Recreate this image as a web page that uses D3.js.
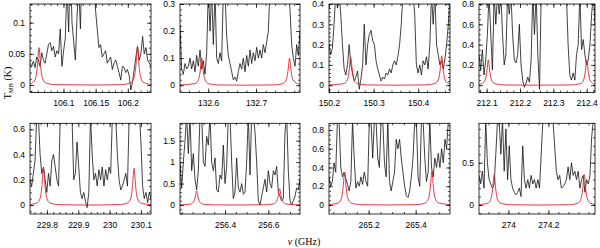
<!DOCTYPE html>
<html>
<head>
<meta charset="utf-8">
<script src="https://cdn.jsdelivr.net/npm/d3@7"></script>
<style>
  body { margin: 0; background: #fff; }
  svg { display: block; }
  .tick text { font-family: "Liberation Sans", Arial, sans-serif; font-size: 8.5px; fill: #000; }
  .tick line { stroke: #000; stroke-width: 0.7; }
  .title { font-family: "Liberation Serif", "Times New Roman", serif; font-size: 10px; fill: #000; }
</style>
</head>
<body>
<div id="chart"></div>
<script>
// frequency window (GHz) and T_MB window (K) of each panel
var xDomains = [[106.048,106.236],[132.541,132.792],[150.2,150.4713],[212.077,212.425],
                [229.746,230.132],[256.192,256.746],[265.0315,265.546],[273.853,274.433]];
var yDomains = [[-0.012,0.13],[-0.027,0.3],[-0.036,0.4],[-0.072,0.8],
                [-0.071,0.647],[-0.21,1.906],[-0.096,0.871],[-0.106,0.966]];

// labelled tick values and minor tick steps
var xTicks = [[106.1,106.15,106.2],[132.6,132.7],[150.2,150.3,150.4],[212.1,212.2,212.3,212.4],
              [229.8,229.9,230,230.1],[256.4,256.6],[265.2,265.4],[274,274.2]];
var yTicks = [[0,0.05,0.1],[0,0.1,0.2,0.3],[0,0.1,0.2,0.3,0.4],[0,0.2,0.4,0.6,0.8],
              [0,0.2,0.4,0.6],[0,0.5,1,1.5],[0,0.2,0.4,0.6,0.8],[0,0.5]];
var xMinorStep = [0.01,0.02,0.02,0.02,0.02,0.05,0.05,0.05];
var yMinorStep = [0.01,0.02,0.02,0.05,0.05,0.1,0.05,0.1];

// observed spectra (K), channels evenly spread over each window
var spec106 = [0.035,0.03,0.038,0.028,0.045,0.04,0.03,0.052,0.04,0.035,
  0.05,0.065,0.068,0.055,0.062,0.045,0.055,0.05,0.09,0.03,
  0.055,0.075,0.16,0.085,0.2,0.1,0.07,0.04,0.11,0.16,
  0.09,0.2,0.2,0.2,0.2,0.2,0.2,0.2,0.2,0.12,
  0.09,0.06,0.065,0.045,0.05,0.055,0.035,0.04,0.045,0.025,
  0.035,0.04,0.03,0.02,0.008,0.03,0.028,0.02,0.025,0.015,
  -0.008,0.005,0.025,0.045,0.062,0.04,0.05,0.078,0.05,0.06,
  0.04,0.035,0.03];
var spec132 = [0.22,0.06,0.04,0.08,0.06,0.07,0.1,0.06,0.09,0.05,
  0.11,0.07,0.13,0.06,0.09,0.04,0.12,0.35,0.2,0.35,
  0.15,0.35,0.1,0.08,0.12,0.09,0.35,0.35,0.18,0.11,
  0.08,0.05,0.02,0.03,0.015,0.05,0.08,0.06,0.1,0.05,
  0.11,0.07,0.13,0.08,0.12,0.09,0.14,0.1,0.13,0.1,
  0.15,0.12,0.16,0.2,0.35,0.35,0.35,0.35,0.35,0.35,
  0.35,0.35,0.35,0.35,0.35,0.35,0.28,0.15,0.1,0.07,
  0.15,0.11,0.2];
var spec150 = [0.2,0.15,0.18,0.3,0.45,0.38,0.45,0.35,0.2,0.08,
  0.05,0.1,0.2,0.1,0.06,0.02,0.04,0.07,-0.02,0.03,
  0.1,0.3,0.1,0.2,0.25,0.27,0.22,0.2,0.12,0.08,
  0.05,0.02,0.04,0.03,0.06,0.05,0.08,0.06,0.1,0.12,
  0.1,0.14,0.2,0.3,0.45,0.45,0.45,0.45,0.45,0.45,
  0.45,0.35,0.1,0.06,0.1,0.05,0.12,0.1,0.14,0.08,
  0.2,0.45,0.3,0.45,0.2,0.15,0.1,0.12,0.08,0.13,
  0.2,0.3,0.45];
var spec212 = [0.3,0.15,0.35,0.1,0.25,0.5,0.9,0.5,0.15,0.9,
  0.6,0.9,0.7,0.9,0.5,0.2,0.3,0.9,0.7,0.9,
  0.5,0.25,0.22,0.3,0.6,0.2,0.05,-0.02,0.02,0.08,
  0.03,0.25,0.9,0.5,0.9,0.3,-0.04,0.9,0.9,0.9,
  0.9,0.9,0.9,0.9,0.9,0.9,0.9,0.9,0.9,0.9,
  0.9,0.9,0.9,0.4,0.1,0.05,0.12,0.05,0.3,0.4,
  0.9,0.35,0.45,0.3,0.2,0.25,0.4,0.7,0.9,0.6];
var spec229 = [0.2,0.15,0.25,0.35,0.7,0.7,0.4,0.25,0.3,0.2,
  0.1,0.25,0.15,0.35,0.4,0.3,0.2,0.15,0.7,0.75,
  0.75,0.75,0.75,0.75,0.75,0.7,0.2,0.25,0.5,0.3,
  0.1,0.05,0.1,0.03,-0.02,0.1,0.7,0.4,0.2,0.25,
  0.15,0.28,0.2,0.3,0.15,0.28,0.2,0.3,0.25,0.7,
  0.75,0.7,0.4,0.2,0.12,0.15,0.2,0.25,0.15,0.7,
  0.75,0.75,0.75,0.75,0.75,0.75,0.5,0.15,0.05,0.1,
  0.02,0.1,0.05];
var spec256 = [1.0,0.4,1.0,1.5,2.1,1.2,2.1,0.8,1.2,0.6,
  0.35,0.8,2.1,2.1,1.0,0.9,1.6,1.4,2.1,1.0,
  0.8,1.1,0.35,0.3,0.7,0.6,1.4,0.5,0.9,2.1,
  2.1,1.0,0.15,0.3,1.1,0.4,0.3,0.5,0.25,0.3,
  1.0,2.1,0.7,2.1,2.1,1.7,1.0,0.1,0.0,0.2,
  0.4,0.6,0.3,0.8,0.5,0.4,0.8,0.7,0.9,0.3,
  0.2,0.1,0.15,1.7,2.1,0.8,0.1,0.0,0.1,0.2,
  0.4,0.35,0.6];
var spec265 = [0.3,0.2,0.25,0.45,0.35,0.9,0.9,0.4,0.3,0.35,
  0.28,0.22,0.15,0.25,0.9,0.5,0.18,0.25,0.2,0.3,
  0.22,0.35,0.25,0.2,0.9,0.9,0.5,0.9,0.9,0.5,
  0.4,0.9,0.9,0.45,0.3,0.9,0.25,0.15,0.25,0.35,
  0.7,0.6,0.7,0.5,0.35,0.2,0.1,0.08,0.15,0.3,
  0.5,0.9,0.9,0.3,0.2,0.9,0.9,0.5,0.25,0.35,
  0.9,0.4,0.3,0.5,0.4,0.55,0.4,0.6,0.45,0.7,
  0.6,0.9,0.9];
var spec274 = [0.35,0.25,0.4,0.2,1.0,0.5,0.3,0.25,0.2,0.25,
  0.6,1.0,1.0,0.6,1.0,0.4,0.9,0.3,0.7,0.3,
  0.2,0.15,0.12,0.15,0.2,0.1,0.7,0.3,0.2,0.3,
  0.2,0.35,0.25,0.3,0.2,0.3,0.2,0.6,1.0,1.0,
  1.0,1.0,1.0,1.0,1.0,0.7,0.4,0.3,0.35,0.2,
  0.22,0.25,0.3,0.45,0.3,0.5,0.35,0.4,0.3,0.4,
  0.2,0.3,0.35,0.15,0.3,0.25,0.35,0.8,1.0,1.0];

// red model lines, [GHz, K]
var model106 = [[106.048,0.002],[106.052,0.0036],[106.057,0.012],[106.0595,0.03],[106.062,0.06],
  [106.0645,0.03],[106.067,0.012],[106.072,0.0036],[106.087,0.0006],[106.15,0],
  [106.19,0.0006],[106.205,0.0037],[106.21,0.0124],[106.2125,0.031],[106.215,0.062],
  [106.2175,0.031],[106.22,0.0124],[106.225,0.0037],[106.236,0.0009]];
var model132 = [[132.541,0.0006],[132.5729,0.006],[132.5797,0.02],[132.5831,0.05],[132.5865,0.1],
  [132.5899,0.05],[132.5933,0.02],[132.6001,0.006],[132.6205,0.001],[132.68,0],
  [132.7361,0.001],[132.7565,0.006],[132.7633,0.02],[132.7667,0.05],[132.7701,0.1],
  [132.7735,0.05],[132.7769,0.02],[132.792,0.0024]];
var model150 = [[150.2,0.0008],[150.2343,0.0084],[150.2415,0.028],[150.2451,0.07],[150.2487,0.14],
  [150.2523,0.07],[150.2559,0.028],[150.2631,0.0084],[150.2847,0.0014],[150.35,0],
  [150.4167,0.0015],[150.4383,0.0087],[150.4455,0.029],[150.4491,0.0725],[150.4527,0.145],
  [150.4563,0.0725],[150.4599,0.029],[150.4671,0.0087],[150.4713,0.005]];
var model212 = [[212.077,0.007],[212.0858,0.015],[212.0954,0.05],[212.1002,0.125],[212.105,0.25],
  [212.1098,0.125],[212.1146,0.05],[212.1242,0.015],[212.153,0.0025],[212.25,0],
  [212.3524,0.0025],[212.3812,0.015],[212.3908,0.05],[212.3956,0.125],[212.4004,0.25],
  [212.4052,0.125],[212.41,0.05],[212.4196,0.015],[212.425,0.008]];
var model229 = [[229.746,0.004],[229.7686,0.017],[229.7788,0.058],[229.7839,0.145],[229.789,0.29],
  [229.7941,0.145],[229.7992,0.058],[229.8094,0.017],[229.84,0.003],[229.93,0],
  [230.027,0.003],[230.0576,0.017],[230.0678,0.058],[230.0729,0.145],[230.078,0.29],
  [230.0831,0.145],[230.0882,0.058],[230.0984,0.017],[230.132,0.003]];
var model256 = [[256.192,0.003],[256.2394,0.02],[256.2542,0.066],[256.2616,0.165],[256.269,0.33],
  [256.2764,0.165],[256.2838,0.066],[256.2986,0.02],[256.343,0.003],[256.46,0],
  [256.578,0.004],[256.6224,0.023],[256.6372,0.076],[256.6446,0.19],[256.652,0.38],
  [256.6594,0.19],[256.6668,0.076],[256.6816,0.023],[256.746,0.002]];
var model265 = [[265.0315,0.004],[265.0704,0.021],[265.0842,0.07],[265.0911,0.175],[265.098,0.35],
  [265.1049,0.175],[265.1118,0.07],[265.1256,0.021],[265.167,0.0035],[265.28,0],
  [265.4,0.0036],[265.4414,0.022],[265.4552,0.072],[265.4621,0.18],[265.469,0.36],
  [265.4759,0.18],[265.4828,0.072],[265.4966,0.022],[265.546,0.004]];
var model274 = [[273.853,0.004],[273.897,0.022],[273.913,0.072],[273.921,0.18],[273.929,0.36],
  [273.937,0.18],[273.945,0.072],[273.961,0.022],[274.009,0.0036],[274.15,0],
  [274.299,0.0036],[274.347,0.022],[274.363,0.072],[274.371,0.18],[274.379,0.36],
  [274.387,0.18],[274.395,0.072],[274.411,0.022],[274.433,0.008]];

var spectra = [spec106,spec132,spec150,spec212,spec229,spec256,spec265,spec274];
var models = [model106,model132,model150,model212,model229,model256,model265,model274];

// layout
var W = 600, H = 248;
var colLeft = [30,180,329,479], colRight = [151,300,450,595];
var rowTop = [4,123.3], rowBottom = [92.5,214];

var fmt = function(d){ return String(+d.toFixed(3)); };
var minorValues = function(dom, step){
   var lo = Math.min(dom[0],dom[1]), hi = Math.max(dom[0],dom[1]);
   return d3.range(Math.ceil(lo/step-1e-9), Math.floor(hi/step+1e-9)+1).map(function(k){ return k*step; });
};

var svg = d3.select("#chart").append("svg").attr("width",W).attr("height",H);

for (var i=0;i<8;i++) {
   var col = i%4, row = Math.floor(i/4);
   var w = colRight[col]-colLeft[col], h = rowBottom[row]-rowTop[row];
   var xScale = d3.scaleLinear().domain(xDomains[i]).range([0,w]);
   var yScale = d3.scaleLinear().domain(yDomains[i]).range([h,0]);
   var g = svg.append("g").attr("transform","translate("+colLeft[col]+","+rowTop[row]+")");

   // clip the lines to the frame
   g.append("clipPath").attr("id","clip"+i)
      .append("rect").attr("width",w).attr("height",h);

   // observed spectrum
   var spec = spectra[i];
   var x0 = xDomains[i][0], dx = (xDomains[i][1]-xDomains[i][0])/(spec.length-1);
   var chan = spec.map(function(v,k){ return [x0+k*dx, v]; });
   var line = d3.line().x(function(d){ return xScale(d[0]); }).y(function(d){ return yScale(d[1]); });
   g.append("path").datum(chan)
      .attr("clip-path","url(#clip"+i+")")
      .attr("fill","none").attr("stroke","#111").attr("stroke-width",0.8)
      .attr("stroke-linejoin","round")
      .attr("d",line);

   // model
   g.append("path").datum(models[i])
      .attr("clip-path","url(#clip"+i+")")
      .attr("fill","none").attr("stroke","#dc2430").attr("stroke-width",0.9)
      .attr("d",line.curve(d3.curveMonotoneX));

   // ticks on all four sides, pointing in
   var xMinor = minorValues(xDomains[i], xMinorStep[i]);
   var yMinor = minorValues(yDomains[i], yMinorStep[i]);

   g.append("g").attr("transform","translate(0,"+h+")")
      .call(d3.axisBottom(xScale).tickValues(xTicks[i]).tickSize(-4).tickPadding(7.5).tickFormat(fmt));
   g.append("g").attr("transform","translate(0,"+h+")")
      .call(d3.axisBottom(xScale).tickValues(xMinor).tickSize(-2).tickFormat(""));
   g.append("g")
      .call(d3.axisTop(xScale).tickValues(xTicks[i]).tickSize(-4).tickFormat(""));
   g.append("g")
      .call(d3.axisTop(xScale).tickValues(xMinor).tickSize(-2).tickFormat(""));

   g.append("g")
      .call(d3.axisLeft(yScale).tickValues(yTicks[i]).tickSize(-4).tickPadding(5).tickFormat(fmt));
   g.append("g")
      .call(d3.axisLeft(yScale).tickValues(yMinor).tickSize(-2).tickFormat(""));
   g.append("g").attr("transform","translate("+w+",0)")
      .call(d3.axisRight(yScale).tickValues(yTicks[i]).tickSize(-4).tickFormat(""));
   g.append("g").attr("transform","translate("+w+",0)")
      .call(d3.axisRight(yScale).tickValues(yMinor).tickSize(-2).tickFormat(""));

   g.selectAll(".domain").remove();

   // frame
   g.append("rect").attr("width",w).attr("height",h)
      .attr("fill","none").attr("stroke","#000").attr("stroke-width",0.8);
}

// axis titles
var ylab = svg.append("text").attr("class","title")
   .attr("transform","translate(11,83) rotate(-90)")
   .attr("text-anchor","middle");
ylab.append("tspan").text("T");
ylab.append("tspan").attr("font-size","6.5px").attr("dy","2").text("MB");
ylab.append("tspan").attr("dy","-2").text(" (K)");

var xlab = svg.append("text").attr("class","title")
   .attr("x",304).attr("y",245).attr("text-anchor","middle");
xlab.append("tspan").attr("font-style","italic").text("\u03bd");
xlab.append("tspan").text(" (GHz)");
</script>
</body>
</html>
